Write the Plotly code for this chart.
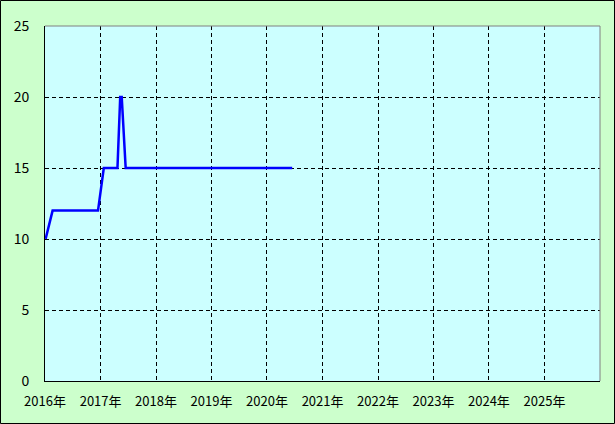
import plotly.graph_objects as go

dates = ["2016-01-05", "2016-02-20", "2016-12-15", "2017-01-22", "2017-04-22",
         "2017-05-10", "2017-05-20", "2017-06-15", "2020-06-15"]
values = [10, 12, 12, 15, 15, 20, 20, 15, 15]

years = list(range(2016, 2027))
tick_vals = [f"{y}-01-01" for y in years]
tick_text = [f"{y}年" if y < 2026 else "" for y in years]
y_ticks = [0, 5, 10, 15, 20, 25]

W, H = 615, 424
L, R, T, B = 45, 15, 26, 43
pw, ph = W - L - R, H - T - B

font = dict(family="Noto Sans CJK JP, sans-serif", size=13, color="black")

fig = go.Figure()
fig.add_trace(go.Scatter(x=dates, y=values, mode="lines",
                         line=dict(color="#0000FF", width=2.5), hoverinfo="skip"))

fig.update_layout(
    width=W, height=H,
    margin=dict(l=L, r=R, t=T, b=B, autoexpand=False),
    paper_bgcolor="#CCFFCC", plot_bgcolor="#CCFFFF",
    showlegend=False, font=font,
    xaxis=dict(type="date", range=["2016-01-01", "2026-01-01"],
               tickvals=tick_vals, ticktext=tick_text,
               showgrid=True, gridcolor="black", griddash="4px,3px", gridwidth=1,
               showline=True, linecolor="black", linewidth=1,
               zeroline=False, ticks="", ticklabelstandoff=8, automargin=False,
               tickfont=font),
    yaxis=dict(range=[0, 25], tickvals=y_ticks,
               showgrid=True, gridcolor="black", griddash="4px,3px", gridwidth=1,
               showline=True, linecolor="black", linewidth=1,
               zeroline=False, ticks="", ticklabelstandoff=12, automargin=False,
               tickfont=dict(family="Noto Sans CJK JP, sans-serif", size=14, color="black")),
)

# gray top/right plot border
fig.add_shape(type="line", xref="paper", yref="paper", x0=0, x1=1, y0=1, y1=1,
              line=dict(color="#808080", width=1))
fig.add_shape(type="line", xref="paper", yref="paper", x0=1, x1=1, y0=0, y1=1,
              line=dict(color="#808080", width=1))

# outer black frame
fig.add_shape(type="rect", xref="paper", yref="paper",
              x0=(0.5 - L) / pw, x1=(W - 0.5 - L) / pw,
              y0=(T + ph - (H - 0.5)) / ph, y1=(T + ph - 0.5) / ph,
              line=dict(color="black", width=1), fillcolor="rgba(0,0,0,0)")

fig.write_html("out.html", config={"displayModeBar": False},
               post_script="document.body.style.margin='0px';document.body.style.overflow='hidden';")
